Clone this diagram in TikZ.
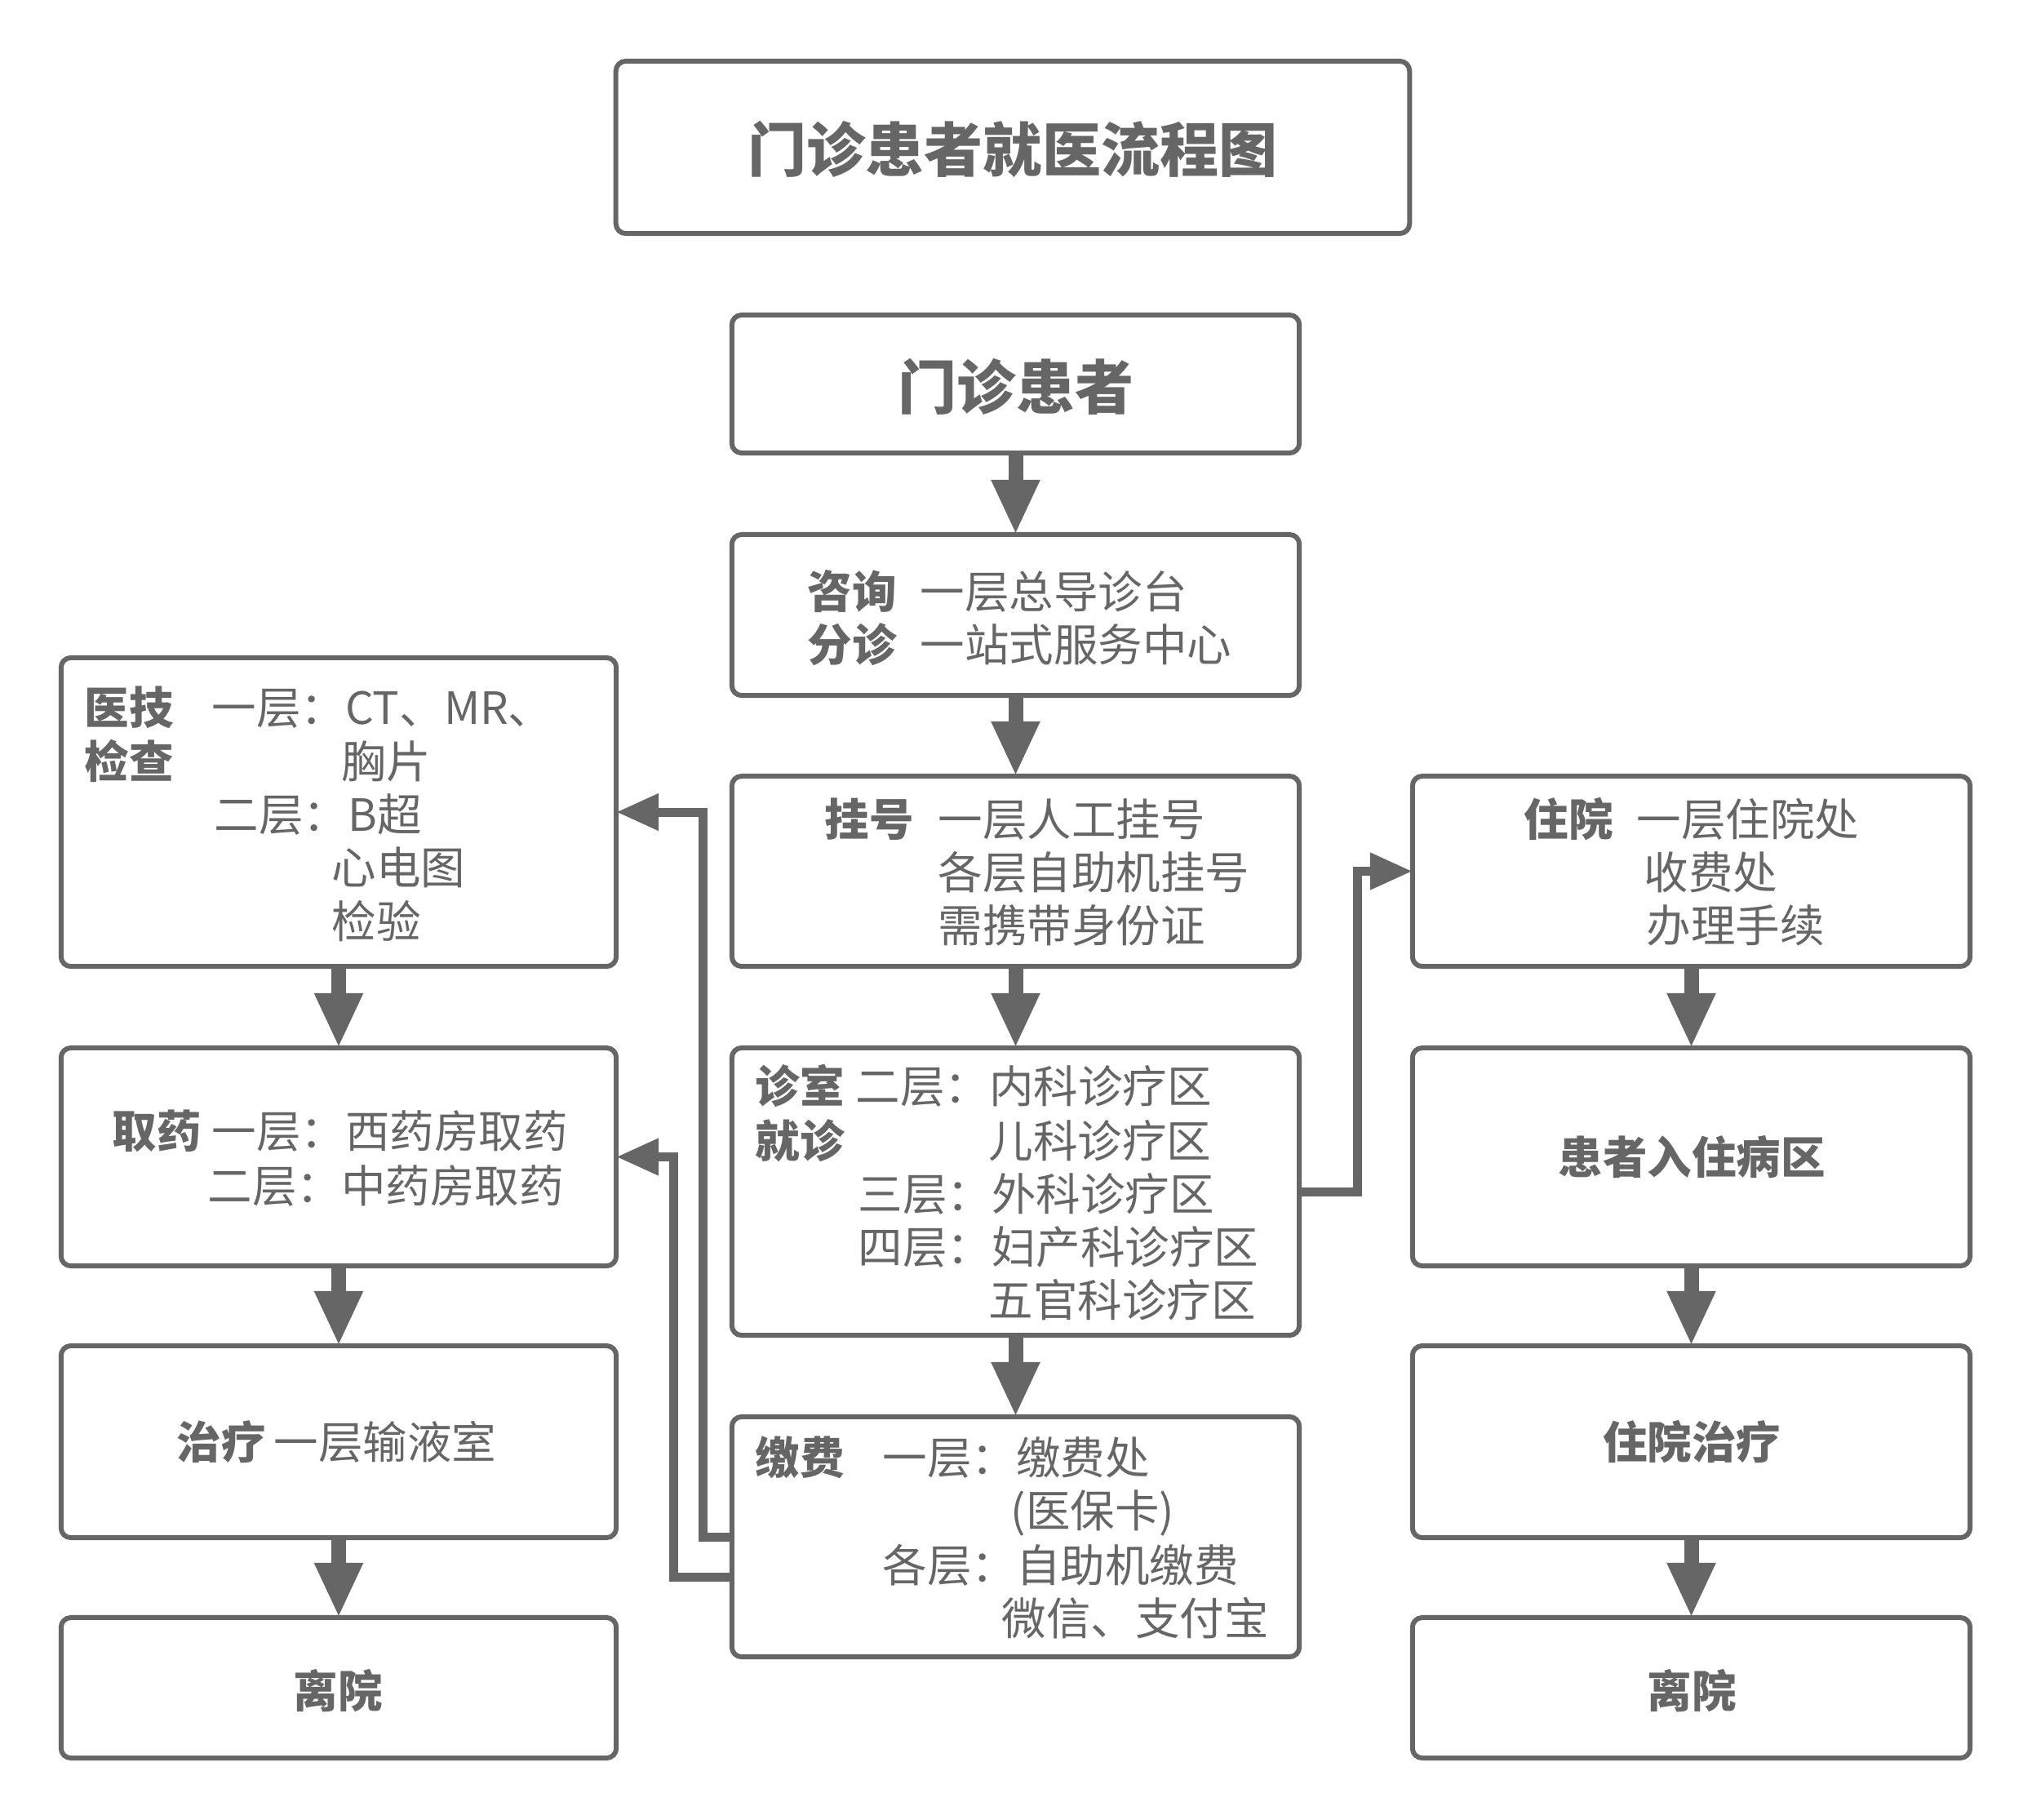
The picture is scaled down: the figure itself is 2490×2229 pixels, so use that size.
\documentclass[tikz,border=0pt]{standalone}
\usepackage{fontspec}
\setmainfont{Noto Sans CJK SC}
\usetikzlibrary{arrows.meta}
\definecolor{linegray}{HTML}{666666}
\newcommand\bodyfont{\fontsize{15.5pt}{18pt}\selectfont}
\newcommand\headfont{\fontsize{20.5pt}{24pt}\selectfont\bfseries}

\begin{document}
\begin{tikzpicture}[x=0.01cm, y=-0.01cm,
  box/.style={draw=linegray, line width=0.06cm, rounded corners=0.12cm, inner sep=0, outer sep=0},
  flow/.style={draw=linegray, line width=0.18cm, -{Triangle[width=0.55cm, length=0.67cm]}},
  link/.style={draw=linegray, line width=0.11cm, -{Triangle[width=0.43cm, length=0.52cm]}},
  txt/.style={anchor=base west, inner sep=0, text=linegray, font=\bodyfont},
  ctxt/.style={anchor=base, inner sep=0, text=linegray, font=\bodyfont\bfseries}]
\useasboundingbox (0,0) rectangle (2490,2229);

% Title
\node[box, minimum width=9.72cm, minimum height=2.11cm] (title) at (1241,180.5) {};
\node[ctxt, font=\headfont] (title-t) at (1241,210) {门诊患者就医流程图};

% Middle column
\node[box, minimum width=6.95cm, minimum height=1.69cm] (patient) at (1244.5,470.5) {};
\node[box, minimum width=6.95cm, minimum height=1.97cm] (consult) at (1244.5,753.5) {};
\node[box, minimum width=6.95cm, minimum height=2.33cm] (register) at (1244.5,1067.5) {};
\node[box, minimum width=6.95cm, minimum height=3.52cm] (clinic) at (1244.5,1460) {};
\node[box, minimum width=6.95cm, minimum height=2.94cm] (payment) at (1244.5,1883) {};

% Left column
\node[box, minimum width=6.80cm, minimum height=3.78cm] (exam) at (415,995) {};
\node[box, minimum width=6.80cm, minimum height=2.67cm] (pharmacy) at (415,1417.5) {};
\node[box, minimum width=6.80cm, minimum height=2.35cm] (treat) at (415,1766.5) {};
\node[box, minimum width=6.80cm, minimum height=1.72cm] (leaveL) at (415,2068) {};

% Right column
\node[box, minimum width=6.83cm, minimum height=2.33cm] (inpatient) at (2072.5,1067.5) {};
\node[box, minimum width=6.83cm, minimum height=2.67cm] (ward) at (2072.5,1417.5) {};
\node[box, minimum width=6.83cm, minimum height=2.35cm] (inTreat) at (2072.5,1766.5) {};
\node[box, minimum width=6.83cm, minimum height=1.72cm] (leaveR) at (2072.5,2068) {};

% Texts, middle column
\node[ctxt, font=\headfont] (patient-t) at (1245,501) {门诊患者};
\node[txt] (consult-a) at (989,745) {\textbf{咨询}};
\node[txt] (consult-b) at (1127,745) {一层总导诊台};
\node[txt] (consult-c) at (989,810) {\textbf{分诊}};
\node[txt] (consult-d) at (1127,810) {一站式服务中心};
\node[txt] (register-a) at (1010,1024) {\textbf{挂号}};
\node[txt] (register-b) at (1149,1024) {一层人工挂号};
\node[txt] (register-c) at (1149,1089) {各层自助机挂号};
\node[txt] (register-d) at (1149,1154) {需携带身份证};
\node[txt] (clinic-a) at (925,1351) {\textbf{诊室}};
\node[txt] (clinic-b) at (1048,1351) {二层：内科诊疗区};
\node[txt] (clinic-c) at (925,1418) {\textbf{就诊}};
\node[txt] (clinic-d) at (1211,1418) {儿科诊疗区};
\node[txt] (clinic-e) at (1051,1483) {三层：外科诊疗区};
\node[txt] (clinic-f) at (1051,1548) {四层：妇产科诊疗区};
\node[txt] (clinic-g) at (1211,1613) {五官科诊疗区};
\node[txt] (payment-a) at (925,1806) {\textbf{缴费}};
\node[txt] (payment-b) at (1081,1806) {一层：缴费处};
\node[txt] (payment-c) at (1238,1871) {(医保卡)};
\node[txt] (payment-d) at (1081,1938) {各层：自助机缴费};
\node[txt] (payment-e) at (1227,2003) {微信、支付宝};

% Texts, left column
\node[txt] (exam-a) at (103,887) {\textbf{医技}};
\node[txt] (exam-b) at (259,887) {一层：CT、MR、};
\node[txt] (exam-c) at (103,953) {\textbf{检查}};
\node[txt] (exam-d) at (418,953) {胸片};
\node[txt] (exam-e) at (262,1018) {二层：B超};
\node[txt] (exam-f) at (406,1083) {心电图};
\node[txt] (exam-g) at (406,1149) {检验};
\node[txt] (pharmacy-a) at (137,1406) {\textbf{取药}};
\node[txt] (pharmacy-b) at (259,1406) {一层：西药房取药};
\node[txt] (pharmacy-c) at (254,1473) {二层：中药房取药};
\node[txt] (treat-a) at (216,1787) {\textbf{治疗}};
\node[txt] (treat-b) at (335,1787) {一层输液室};
\node[ctxt] (leaveL-t) at (414,2092) {离院};

% Texts, right column
\node[txt] (inpatient-a) at (1867,1024) {\textbf{住院}};
\node[txt] (inpatient-b) at (2005,1024) {一层住院处};
\node[txt] (inpatient-c) at (2014,1089) {收费处};
\node[txt] (inpatient-d) at (2017,1154) {办理手续};
\node[ctxt] (ward-t) at (2073,1438) {患者入住病区};
\node[ctxt] (inTreat-t) at (2073,1787) {住院治疗};
\node[ctxt] (leaveR-t) at (2073,2092) {离院};

% Down arrows
\draw[flow] (patient.south) -- (consult.north);
\draw[flow] (consult.south) -- (register.north);
\draw[flow] (register.south) -- (clinic.north);
\draw[flow] (clinic.south) -- (payment.north);
\draw[flow] (exam.south) -- (pharmacy.north);
\draw[flow] (pharmacy.south) -- (treat.north);
\draw[flow] (treat.south) -- (leaveL.north);
\draw[flow] (inpatient.south) -- (ward.north);
\draw[flow] (ward.south) -- (inTreat.north);
\draw[flow] (inTreat.south) -- (leaveR.north);

% Side links
\draw[link] (payment.west) -- ++(-35,0) |- (exam.east);
\draw[link] ([yshift=-0.49cm]payment.west) -- ++(-71,0) |- (pharmacy.east);
\draw[link] (clinic.east) -- ++(71,0) |- (inpatient.west);

\end{tikzpicture}
\end{document}
